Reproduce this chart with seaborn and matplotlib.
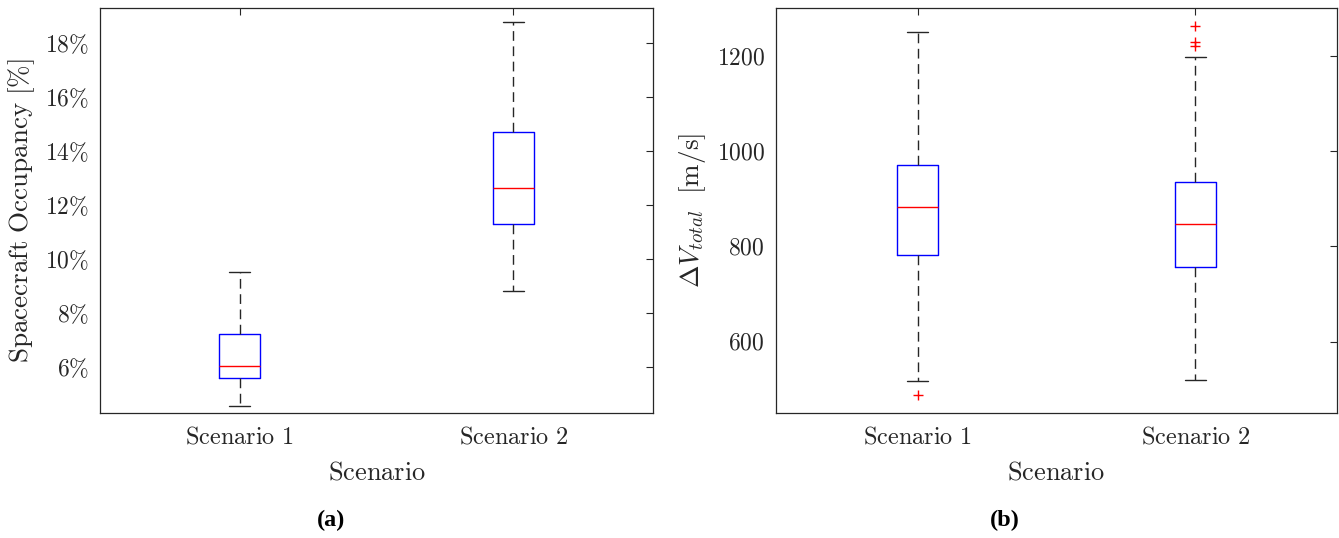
import numpy as np
import pandas as pd
import matplotlib
matplotlib.use("Agg")
import matplotlib.pyplot as plt
import seaborn as sns

# ---------------- data ----------------
scenarios = ["Scenario 1", "Scenario 2"]

# (a) Spacecraft occupancy [%]
occ_whisker_lo = [4.56, 8.81]
occ_q1 = [5.61, 11.29]
occ_median = [6.04, 12.62]
occ_q3 = [7.23, 14.70]
occ_whisker_hi = [9.51, 18.80]
occ_outliers = [[], []]

# (b) Delta V total [m/s]
dv_whisker_lo = [517, 520]
dv_q1 = [783, 757.5]
dv_median = [884, 848]
dv_q3 = [972, 936]
dv_whisker_hi = [1250, 1198]
dv_outliers = [[488], [1221, 1229, 1264]]

occ_ticks = [6, 8, 10, 12, 14, 16, 18]
dv_ticks = [600, 800, 1000, 1200]


def sample_from_stats(lo, q1, med, q3, hi, out):
    """Sorted sample (n = 4k+1) whose quartiles equal q1/med/q3 and whose
    whisker ends / fliers equal the read values."""
    low_out = sorted(v for v in out if v < q1)
    high_out = sorted(v for v in out if v > q3)
    k = max(len(low_out) + 1, len(high_out) + 1)
    below = low_out + [lo] * (k - len(low_out))
    above = [hi] * (k - len(high_out)) + high_out
    return sorted(below + [q1] * k + [med] + [q3] * k + above)


def build_frame(lo, q1, med, q3, hi, out):
    rows = []
    for i, name in enumerate(scenarios):
        for v in sample_from_stats(lo[i], q1[i], med[i], q3[i], hi[i], out[i]):
            rows.append((name, v))
    return pd.DataFrame(rows, columns=["Scenario", "value"])


df_occ = build_frame(occ_whisker_lo, occ_q1, occ_median, occ_q3, occ_whisker_hi, occ_outliers)
df_dv = build_frame(dv_whisker_lo, dv_q1, dv_median, dv_q3, dv_whisker_hi, dv_outliers)

# ---------------- style ----------------
sns.set_theme(style="white")
plt.rcParams.update({
    "font.family": ["Liberation Serif", "DejaVu Serif"],
    "mathtext.fontset": "cm",
    "axes.unicode_minus": False,
    "axes.edgecolor": "#262626",
    "axes.linewidth": 0.9,
    "text.color": "#262626",
    "axes.labelcolor": "#262626",
    "xtick.color": "#262626",
    "ytick.color": "#262626",
})


def tex(s):
    return r"$\mathrm{" + s.replace(" ", r"\ ").replace("%", r"\%") + "}$"


fig = plt.figure(figsize=(13.39, 5.38), dpi=100)
ax1 = fig.add_axes([0.0747, 0.2323, 0.4130, 0.7527])
ax2 = fig.add_axes([0.5795, 0.2323, 0.4190, 0.7527])

box_kw = dict(
    fill=False,
    color="blue",
    width=0.15,
    whis=1.5,
    linewidth=1.0,
    whiskerprops=dict(color="#262626", linestyle=(0, (7, 4)), linewidth=1.0),
    capprops=dict(color="#262626", linewidth=1.0),
    medianprops=dict(color="red", linewidth=1.0),
    boxprops=dict(color="blue", linewidth=1.0),
    flierprops=dict(marker="+", markeredgecolor="red", markerfacecolor="red",
                    markersize=7, markeredgewidth=1.0),
)

sns.boxplot(data=df_occ, x="Scenario", y="value", ax=ax1, **box_kw)
sns.boxplot(data=df_dv, x="Scenario", y="value", ax=ax2, **box_kw)

for ax in (ax1, ax2):
    ax.set_xlim(-0.51, 1.51)
    ax.tick_params(axis="both", which="both", direction="in", top=True, right=True,
                   length=5, width=0.8, pad=8)
    ax.tick_params(axis="x", pad=10)
    for s in ax.spines.values():
        s.set_visible(True)
        s.set_color("#262626")
    ax.set_xticks([0, 1])
    ax.set_xticklabels([tex(s) for s in scenarios], fontsize=17.5)
    ax.set_xlabel(tex("Scenario"), fontsize=19, labelpad=9)

ax1.set_ylim(4.3, 19.3)
ax1.set_yticks(occ_ticks)
ax1.set_yticklabels([tex("%d%%" % t) for t in occ_ticks], fontsize=17)
ax1.set_ylabel(tex("Spacecraft Occupancy [%]"), fontsize=19.5, labelpad=6)

ax2.set_ylim(450, 1301)
ax2.set_yticks(dv_ticks)
ax2.set_yticklabels([tex("%d" % t) for t in dv_ticks], fontsize=17)
ax2.set_ylabel(r"$\Delta V_{total}\ \ \mathrm{[m/s]}$", fontsize=19.5, labelpad=6)

fig.text(0.247, 0.033, "(a)", ha="center", va="center", fontsize=17.5,
         fontweight="bold", color="black")
fig.text(0.7506, 0.033, "(b)", ha="center", va="center", fontsize=17.5,
         fontweight="bold", color="black")

fig.savefig("out.png", dpi=100)
